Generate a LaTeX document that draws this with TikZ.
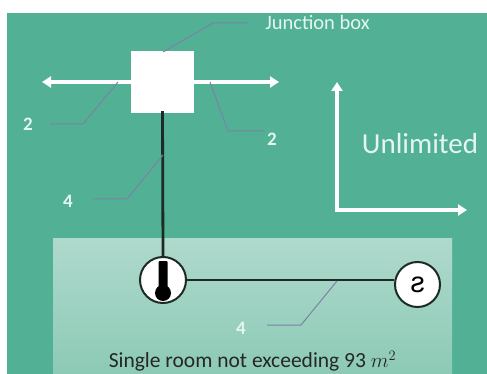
\documentclass[tikz,border=0pt]{standalone}
\usepackage{fontspec}
\setmainfont{Carlito}
\newfontfamily\symfont{Liberation Sans}
\usetikzlibrary{arrows.meta,calc}
\definecolor{bggreen}{HTML}{52B094}
\definecolor{roomtop}{HTML}{AFD9CC}
\definecolor{roombot}{HTML}{8CCAB6}
\definecolor{leader}{HTML}{7C82A6}
\definecolor{lbl}{HTML}{E4F6F0}
\definecolor{wire}{HTML}{1C2B26}
\tikzset{
  whitearrow/.style={draw=white,line width=3.4pt,-{Triangle[length=9pt,width=11pt]}},
  wireline/.style={draw=wire,line width=2.8pt},
  leaderline/.style={draw=leader,line width=1pt},
  numlabel/.style={text=lbl,font=\fontsize{19}{19}\selectfont\bfseries,inner sep=0pt},
  device/.style={draw=wire,fill=white,line width=2pt,circle,inner sep=0pt}
}
\begin{document}
\begin{tikzpicture}[x=1pt,y=-1pt]
\useasboundingbox (0,0) rectangle (487,374);
\fill[white] (0,0) rectangle (487,374);
\fill[bggreen] (7,13) rectangle (487,374);
\fill[top color=roomtop,bottom color=roombot,draw=none] (53,238) rectangle (452,374);

% connectors under boxes
\coordinate (hl) at (42,82);
\coordinate (hr) at (279,82);
\node[fill=white,minimum width=63pt,minimum height=62pt,inner sep=0pt] (jb) at (162.5,82) {};
\draw[whitearrow] (jb.west) -- (hl);
\draw[whitearrow] (jb.east) -- (hr);

\node[device,minimum width=46pt] (th) at (163,280) {};
\node[device,minimum width=45pt] (sw) at (417.5,284.5) {\symfont\fontsize{29}{29}\selectfont ƨ};
\draw[wireline] (jb.south) ++(0,-2) -- (th.north);
\draw[wireline,line width=2.4pt] (th.east) -- (sw.west |- th.east);

% thermostat glyph
\fill[black,rounded corners=1pt] (158.5,261) rectangle (167.5,292);
\fill[black] (163,293) circle (8pt);

% axes
\coordinate (ao) at (337,210);
\coordinate (ay) at (337,82);
\coordinate (ax) at (467,210);
\draw[whitearrow,line cap=rect] (ao) -- (ay);
\draw[whitearrow,line cap=rect] (ao) -- (ax);
\node[text=lbl,font=\fontsize{29}{29}\selectfont,inner sep=0pt] (unl) at (420,144) {Unlimited};

% labels
\node[text=lbl,font=\fontsize{20.5}{20.5}\selectfont,inner sep=0pt] (jl) at (317.5,22) {Junction box};
\node[numlabel] (l2a) at (28,124) {2};
\node[numlabel] (l2b) at (272,139) {2};
\node[numlabel] (l4a) at (68,201) {4};
\node[numlabel] (l4b) at (241,328) {4};
\node[text=black!85,font=\fontsize{21.5}{21.5}\selectfont,inner sep=0pt] (room) at (252.5,361) {Single room not exceeding 93 $m^2$};

% leaders
\coordinate (e1) at (163,52);
\coordinate (e2) at (118,82);
\coordinate (e3) at (210,82);
\coordinate (e4) at (163,155);
\coordinate (e5) at (337,281);
\coordinate (s1) at (248,23);
\coordinate (s2) at (50,124);
\coordinate (s3) at (264,131);
\coordinate (s4) at (93,199);
\coordinate (s5) at (267,325);
\draw[leaderline] (s1) -- (213,23) -- (e1);
\draw[leaderline] (s2) -- (83,124) -- (e2);
\draw[leaderline] (s3) -- (228,131) -- (e3);
\draw[leaderline] (s4) -- (127,199) -- (e4);
\draw[leaderline] (s5) -- (301,325) -- (e5);
\end{tikzpicture}
\end{document}
